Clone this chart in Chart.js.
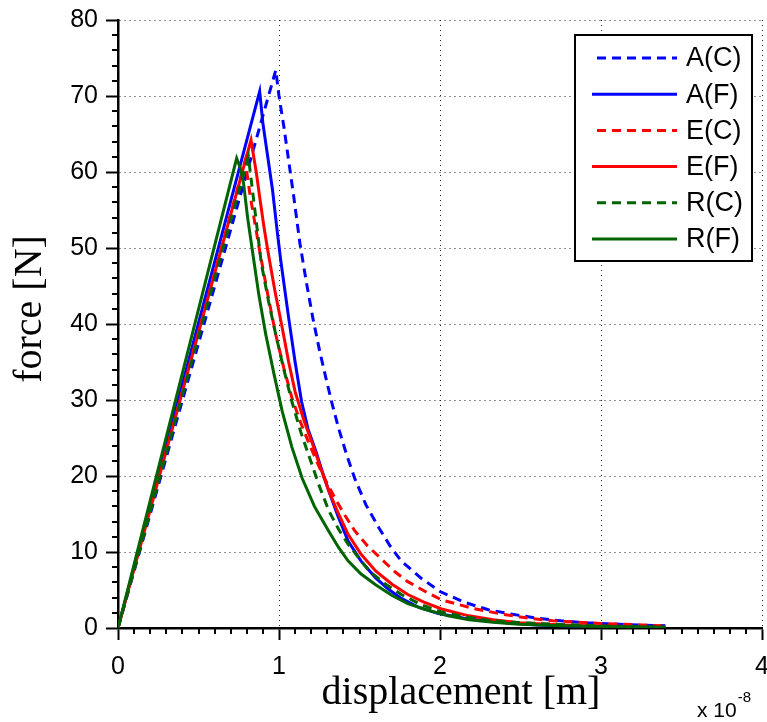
<!DOCTYPE html>
<html>
<head>
<meta charset="utf-8">
<script src="https://cdn.jsdelivr.net/npm/chart.js@4.4.1/dist/chart.umd.min.js"></script>
<style>
html,body{margin:0;padding:0;background:#fff;}
#wrap{width:767px;height:722px;position:relative;}
</style>
</head>
<body>
<div id="wrap"><canvas id="c" width="767" height="722"></canvas></div>
<script>
// ---- data (displacement in units of 1e-8 m, force in N) ----
const seriesNames = ['A(C)', 'A(F)', 'E(C)', 'E(F)', 'R(C)', 'R(F)'];

const acX = [0, 0.98, 1.0, 1.03, 1.06, 1.09, 1.13, 1.17, 1.21, 1.25, 1.29, 1.33, 1.37, 1.42, 1.47, 1.54, 1.62, 1.69, 1.76, 1.88, 2.0, 2.15, 2.3, 2.45, 2.6, 2.75, 2.9, 3.15, 3.4];
const acY = [0, 73.4, 70.0, 66.0, 61.5, 57.0, 50.6, 45.5, 40.8, 36.7, 33.0, 29.5, 26.3, 22.8, 19.7, 16.2, 13.2, 10.8, 8.8, 6.6, 4.8, 3.4, 2.4, 1.8, 1.3, 0.95, 0.7, 0.45, 0.3];

const afX = [0, 0.88, 0.90, 0.93, 0.96, 0.99, 1.01, 1.06, 1.10, 1.14, 1.18, 1.23, 1.27, 1.31, 1.37, 1.43, 1.51, 1.60, 1.68, 1.76, 1.87, 1.99, 2.15, 2.3, 2.6, 2.9];
const afY = [0, 70.6, 66.4, 62.0, 57.6, 52.0, 48.5, 40.8, 35.0, 29.8, 26.2, 23.2, 20.5, 18.0, 14.5, 11.4, 8.8, 6.6, 5.1, 3.9, 2.7, 1.9, 1.3, 0.9, 0.4, 0.2];

const ecX = [0, 0.79, 0.82, 0.85, 0.88, 0.93, 0.98, 1.03, 1.08, 1.135, 1.19, 1.27, 1.35, 1.41, 1.47, 1.55, 1.64, 1.72, 1.8, 1.9, 2.01, 2.2, 2.39, 2.55, 2.7, 3.0, 3.38];
const ecY = [0, 61.5, 57.0, 53.3, 49.6, 43.9, 38.6, 34.2, 30.3, 27.0, 24.1, 20.2, 17.0, 14.8, 12.8, 10.8, 9.0, 7.4, 6.1, 4.9, 3.7, 2.6, 1.8, 1.3, 0.95, 0.6, 0.3];

const efX = [0, 0.826, 0.86, 0.88, 0.905, 0.93, 0.975, 1.02, 1.06, 1.10, 1.155, 1.21, 1.26, 1.31, 1.37, 1.43, 1.51, 1.6, 1.7, 1.8, 1.9, 2.01, 2.18, 2.33, 2.49, 2.7, 2.9, 3.2];
const efY = [0, 64.2, 59.8, 56.7, 53.0, 49.7, 44.3, 39.5, 35.0, 31.1, 27.3, 24.1, 21.0, 18.0, 15.0, 12.3, 9.7, 7.5, 5.8, 4.4, 3.4, 2.5, 1.6, 1.1, 0.7, 0.45, 0.3, 0.2];

const rcX = [0, 0.81, 0.83, 0.85, 0.89, 0.935, 0.98, 1.03, 1.08, 1.135, 1.19, 1.25, 1.31, 1.37, 1.43, 1.5, 1.56, 1.66, 1.76, 1.88, 2.01, 2.15, 2.3, 2.5, 2.7, 3.1, 3.4];
const rcY = [0, 62.0, 58.5, 55.0, 48.0, 43.0, 38.6, 34.0, 29.8, 25.8, 22.4, 18.7, 15.4, 13.0, 11.0, 9.1, 7.5, 5.8, 4.4, 3.1, 2.1, 1.5, 1.0, 0.7, 0.5, 0.2, 0.1];

const rfX = [0, 0.737, 0.76, 0.78, 0.805, 0.835, 0.875, 0.918, 0.97, 1.02, 1.08, 1.144, 1.22, 1.31, 1.37, 1.43, 1.51, 1.6, 1.7, 1.8, 1.9, 2.05, 2.18, 2.33, 2.49, 2.75, 3.0, 3.4];
const rfY = [0, 61.8, 60.5, 58.5, 54.0, 49.6, 43.8, 38.6, 33.3, 28.5, 23.8, 19.7, 16.0, 12.7, 10.6, 8.8, 7.1, 5.7, 4.3, 3.2, 2.5, 1.6, 1.1, 0.75, 0.5, 0.3, 0.2, 0.1];

const xTickValues = [0, 1, 2, 3, 4];
const yTickValues = [0, 10, 20, 30, 40, 50, 60, 70, 80];
const xTitle = 'displacement [m]';
const yTitle = 'force [N]';
const xExponent = '-8';

// ---- build chart ----
const BLUE = '#0000ff', RED = '#ff0000', GREEN = '#006400';
const styles = [
  {color: BLUE, dash: [9, 6]},
  {color: BLUE, dash: []},
  {color: RED, dash: [9, 6]},
  {color: RED, dash: []},
  {color: GREEN, dash: [9, 6]},
  {color: GREEN, dash: []}
];
const xs = [acX, afX, ecX, efX, rcX, rfX];
const ys = [acY, afY, ecY, efY, rcY, rfY];

const datasets = seriesNames.map((name, i) => ({
  label: name,
  data: xs[i].map((x, j) => ({x: x, y: ys[i][j]})),
  borderColor: styles[i].color,
  backgroundColor: styles[i].color,
  borderDash: styles[i].dash,
  borderWidth: 3,
  pointRadius: 0,
  showLine: true,
  tension: 0,
  fill: false,
  order: 6 - i
}));

const extras = {
  id: 'extras',
  afterDraw(chart) {
    const ctx = chart.ctx;
    const xs_ = chart.scales.x, ys_ = chart.scales.y;
    const area = chart.chartArea;
    ctx.save();
    // minor ticks
    ctx.strokeStyle = '#000';
    ctx.lineWidth = 2;
    ctx.beginPath();
    for (let k = 1; k < 40; k++) {
      if (k % 10 === 0) continue;
      const px = Math.round(xs_.getPixelForValue(k / 10));
      ctx.moveTo(px, area.bottom);
      ctx.lineTo(px, area.bottom + 6);
    }
    for (let k = 2; k < 80; k += 2) {
      if (k % 10 === 0) continue;
      const py = Math.round(ys_.getPixelForValue(k));
      ctx.moveTo(area.left - 6, py);
      ctx.lineTo(area.left, py);
    }
    ctx.stroke();

    // axis titles
    ctx.fillStyle = '#000';
    ctx.font = '40px "Liberation Serif"';
    ctx.textAlign = 'center';
    ctx.textBaseline = 'alphabetic';
    ctx.fillText(xTitle, 461, 704);
    ctx.save();
    ctx.translate(41, 309);
    ctx.rotate(-Math.PI / 2);
    ctx.fillText(yTitle, 0, 0);
    ctx.restore();

    // exponent label
    ctx.textAlign = 'left';
    ctx.font = '21px "Liberation Sans"';
    ctx.fillText('x 10', 697, 717);
    const w = ctx.measureText('x 10').width;
    ctx.font = '15px "Liberation Sans"';
    ctx.fillText(xExponent, 697 + w + 1, 702);

    // legend
    const lx = 575, ly = 35, lw = 177, lh = 226;
    ctx.fillStyle = '#fff';
    ctx.fillRect(lx, ly, lw, lh);
    ctx.strokeStyle = '#000';
    ctx.lineWidth = 2;
    ctx.strokeRect(lx, ly, lw, lh);
    ctx.font = '27px "Liberation Sans"';
    ctx.textBaseline = 'middle';
    chart.data.datasets.forEach((ds, i) => {
      const yy = 58 + i * 36.2;
      ctx.strokeStyle = ds.borderColor;
      ctx.lineWidth = 3;
      ctx.setLineDash(ds.borderDash);
      ctx.beginPath();
      ctx.moveTo(ds.borderDash.length ? 597 : 592, yy);
      ctx.lineTo(677, yy);
      ctx.stroke();
      ctx.setLineDash([]);
      ctx.fillStyle = '#000';
      ctx.fillText(ds.label, 686, yy + 1);
    });
    ctx.restore();
  }
};

new Chart(document.getElementById('c'), {
  type: 'scatter',
  data: {datasets: datasets},
  options: {
    responsive: false,
    animation: false,
    devicePixelRatio: 1,
    layout: {padding: {left: 0, right: 5, top: 20, bottom: 0}},
    plugins: {legend: {display: false}, tooltip: {enabled: false}},
    scales: {
      x: {
        type: 'linear', min: 0, max: 4,
        afterBuildTicks: (s) => { s.ticks = xTickValues.map(v => ({value: v})); },
        afterFit: (s) => { s.height = 94; s.paddingLeft = 0; s.paddingRight = 0; },
        ticks: {
          font: {family: '"Liberation Sans"', size: 25},
          color: '#000', padding: 12, maxRotation: 0, autoSkip: false,
          callback: (v) => String(v)
        },
        grid: {color: '#222', lineWidth: 1, drawTicks: true, tickLength: 12, tickColor: '#000', tickWidth: 2},
        border: {display: true, color: '#000', width: 2.5, dash: [1, 4]}
      },
      y: {
        type: 'linear', min: 0, max: 80,
        afterBuildTicks: (s) => { s.ticks = yTickValues.map(v => ({value: v})); },
        afterFit: (s) => { s.width = 118; s.paddingTop = 0; s.paddingBottom = 0; },
        ticks: {
          font: {family: '"Liberation Sans"', size: 25},
          color: '#000', padding: 8, autoSkip: false,
          callback: (v) => String(v)
        },
        grid: {color: '#222', lineWidth: 1, drawTicks: true, tickLength: 12, tickColor: '#000', tickWidth: 2},
        border: {display: true, color: '#000', width: 2.5, dash: [1, 4]}
      }
    }
  },
  plugins: [extras]
});
</script>
</body>
</html>
